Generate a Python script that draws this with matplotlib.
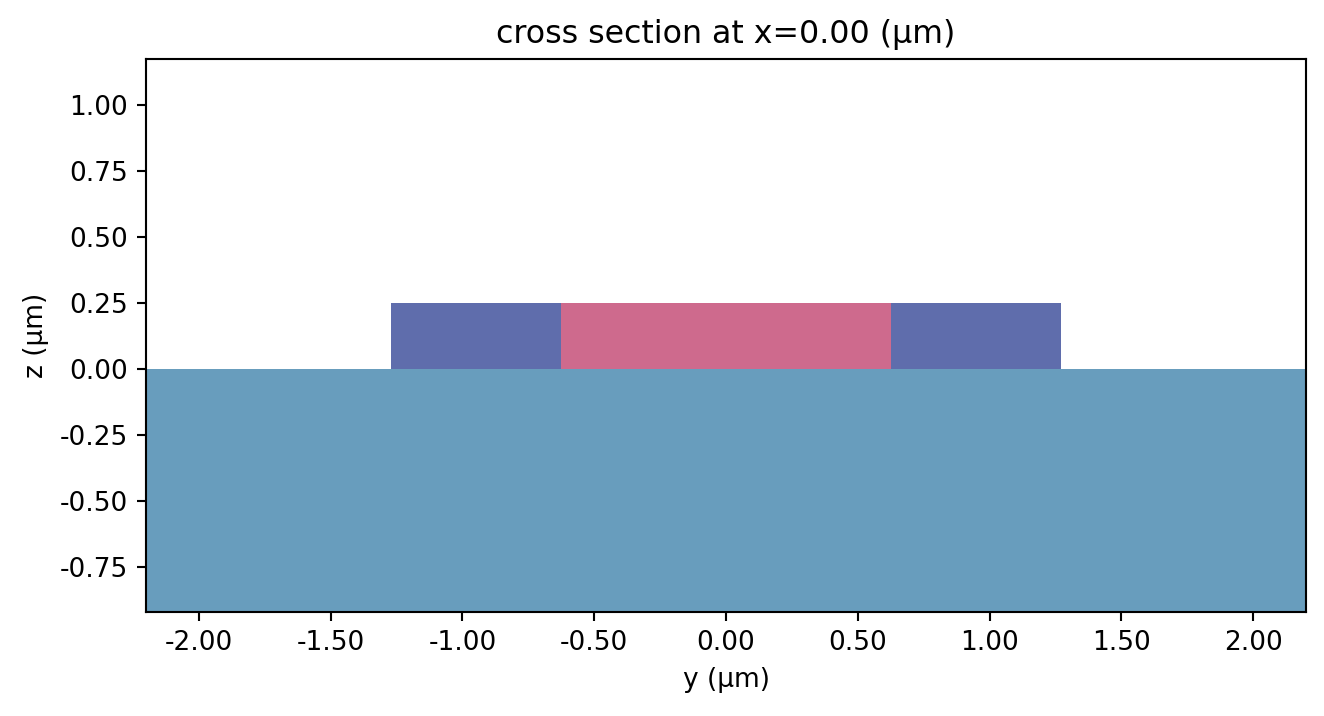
import matplotlib
matplotlib.use("Agg")
import matplotlib.pyplot as plt
from matplotlib.patches import Rectangle
from matplotlib.ticker import FormatStrFormatter, MultipleLocator

# structures in the cross section: (name, y_min, y_max, z_min, z_max, colour)
names = ["substrate", "left_slab", "core", "right_slab"]
y_min = [-10.0, -1.27, -0.625, 0.625]
y_max = [10.0, -0.625, 0.625, 1.27]
z_min = [-10.0, 0.0, 0.0, 0.0]
z_max = [0.0, 0.25, 0.25, 0.25]
colors = ["#689DBD", "#5F6DAC", "#CE6A8D", "#5F6DAC"]

y_lim = (-2.2, 2.2)
z_lim = (-0.92, 1.175)

DPI = 190
fig = plt.figure(figsize=(1324 / DPI, 716 / DPI), dpi=DPI)
ax = fig.add_axes([0.1103, 0.1453, 0.8761, 0.7723])

for i in range(len(names)):
    ax.add_patch(Rectangle((y_min[i], z_min[i]), y_max[i] - y_min[i],
                           z_max[i] - z_min[i], facecolor=colors[i],
                           edgecolor="none"))

ax.set_xlim(*y_lim)
ax.set_ylim(*z_lim)
ax.xaxis.set_major_locator(MultipleLocator(0.5))
ax.yaxis.set_major_locator(MultipleLocator(0.25))
ax.xaxis.set_major_formatter(FormatStrFormatter("%.2f"))
ax.yaxis.set_major_formatter(FormatStrFormatter("%.2f"))
ax.set_xlabel("y (μm)")
ax.set_ylabel("z (μm)")
ax.set_title("cross section at x=0.00 (μm)")

fig.savefig("out.png", dpi=DPI)
